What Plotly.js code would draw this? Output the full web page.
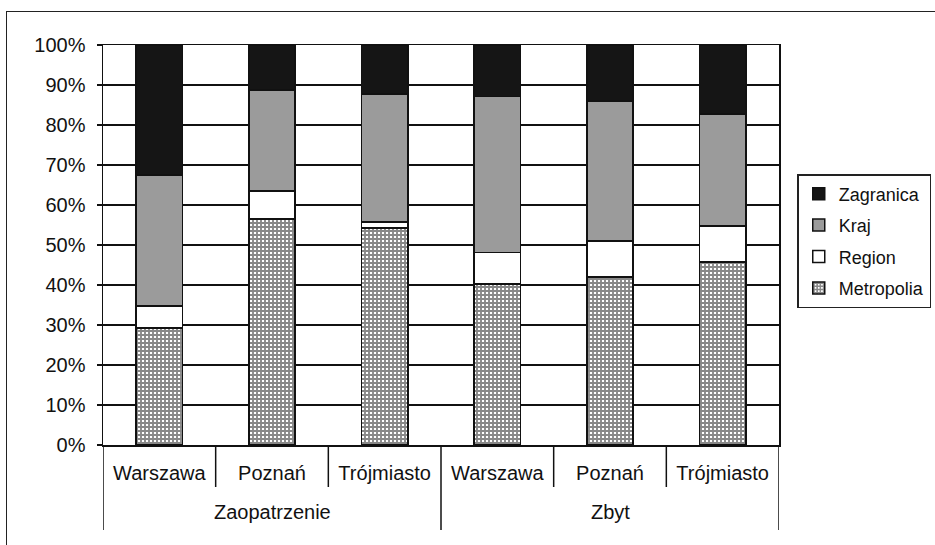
<!DOCTYPE html>
<html>
<head>
<meta charset="utf-8">
<script src="https://cdn.plot.ly/plotly-3.0.1.min.js"></script>
<style>
  html, body { margin: 0; padding: 0; background: #fff; }
  #wrap { position: relative; width: 935px; height: 545px; overflow: hidden; }
  #chart { width: 935px; height: 545px; }
  #frame { position: absolute; left: 6px; top: 11px; width: 960px; height: 600px;
           border-top: 1.5px solid #222; border-left: 1.5px solid #222; pointer-events: none; }
</style>
</head>
<body>
<div id="wrap">
  <div id="chart"></div>
  <div id="frame"></div>
</div>
<script>
const groups = ['Zaopatrzenie', 'Zaopatrzenie', 'Zaopatrzenie', 'Zbyt', 'Zbyt', 'Zbyt'];
const cities = ['Warszawa', 'Poznań', 'Trójmiasto', 'Warszawa', 'Poznań', 'Trójmiasto'];
const metropolia = [29.3, 56.5, 54.2, 40.2, 42.0, 45.8];
const region     = [5.5, 7.0, 1.6, 7.9, 9.0, 9.0];
const kraj       = [32.7, 25.2, 31.9, 39.0, 35.0, 27.9];
const zagranica  = [32.5, 11.3, 12.3, 12.9, 14.0, 17.3];
const yTicks = [0, 10, 20, 30, 40, 50, 60, 70, 80, 90, 100];

const font = 'Liberation Sans, Arial, sans-serif';
const idx = cities.map((_, i) => i);
const line = { color: '#111', width: 1.5 };

const traces = [
  { name: 'Metropolia', y: metropolia, legendrank: 4,
    marker: { color: '#fff', line: line,
      pattern: { shape: '+', size: 4, solidity: 0.72, fgcolor: '#111', bgcolor: '#fff', fillmode: 'overlay' } } },
  { name: 'Region', y: region, legendrank: 3, marker: { color: '#ffffff', line: line } },
  { name: 'Kraj', y: kraj, legendrank: 2, marker: { color: '#9b9b9b', line: line } },
  { name: 'Zagranica', y: zagranica, legendrank: 1, marker: { color: '#151515', line: line } }
].map((t, i) => Object.assign({ type: 'bar', x: idx, legendgroup: 'g' + i, hoverinfo: 'skip' }, t));

// group structure (derived from the groups array)
const groupNames = [...new Set(groups)];
const groupInfo = groupNames.map(g => {
  const ii = idx.filter(i => groups[i] === g);
  return { name: g, first: ii[0], last: ii[ii.length - 1] };
});

const plotH = 400;
const shortDrop = -42 / plotH, longDrop = -85 / plotH;
const shapes = [];
const groupEdges = new Set();
groupInfo.forEach(g => { groupEdges.add(g.first - 0.5); groupEdges.add(g.last + 0.5); });
for (let b = -0.5; b <= cities.length - 0.5; b += 1) {
  const long = groupEdges.has(b);
  shapes.push({ type: 'line', xref: 'x', yref: 'paper', x0: b, x1: b, y0: 0, y1: long ? longDrop : shortDrop,
                line: { color: '#111', width: 1.5 } });
}
const annotations = groupInfo.map(g => ({
  text: g.name, xref: 'x', yref: 'paper', x: (g.first + g.last) / 2, y: -67 / plotH,
  xanchor: 'center', yanchor: 'middle', showarrow: false,
  font: { family: font, size: 20, color: '#111' }
}));

const layout = {
  width: 935, height: 545,
  margin: { l: 103, r: 156, t: 45, b: 100, autoexpand: false },
  paper_bgcolor: '#fff', plot_bgcolor: '#fff',
  barmode: 'stack', bargap: 0.59,
  font: { family: font, size: 18, color: '#111' },
  showlegend: true,
  legend: {
    x: 1.027, xanchor: 'left', y: 0.51, yanchor: 'middle',
    traceorder: 'grouped', tracegroupgap: 5,
    bordercolor: '#222', borderwidth: 1.5, bgcolor: '#fff',
    font: { family: font, size: 18, color: '#111' },
    itemwidth: 30
  },
  shapes: shapes,
  annotations: annotations,
  xaxis: {
    range: [-0.5, cities.length - 0.5],
    tickvals: idx, ticktext: cities,
    showline: true, linecolor: '#111', linewidth: 1.5, mirror: true,
    ticks: '', ticklabelstandoff: 9,
    tickfont: { family: font, size: 20, color: '#111' },
    showgrid: false, zeroline: false
  },
  yaxis: {
    range: [0, 100], tickvals: yTicks, ticktext: yTicks.map(v => v + '%'),
    showline: true, linecolor: '#111', linewidth: 1.5, mirror: true,
    ticks: 'outside', ticklen: 5, tickcolor: '#111', tickwidth: 1.5,
    ticklabelstandoff: 7,
    showgrid: true, gridcolor: '#111', gridwidth: 1.5,
    zeroline: false,
    tickfont: { family: font, size: 20, color: '#111' }
  }
};

Plotly.newPlot('chart', traces, layout, { staticPlot: true, displayModeBar: false });
</script>
</body>
</html>
